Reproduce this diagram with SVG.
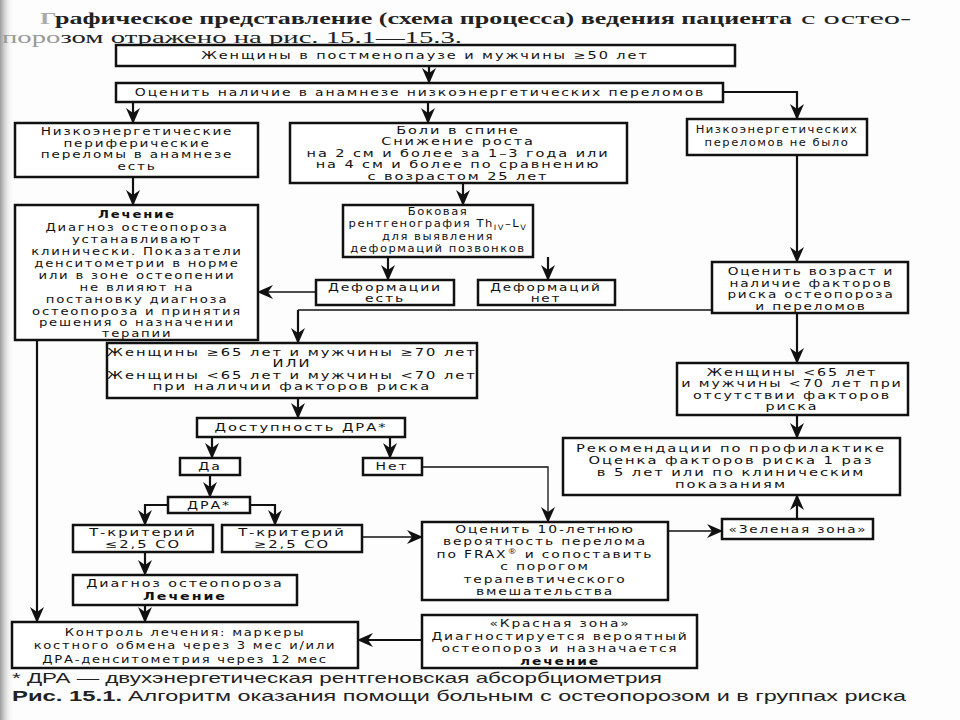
<svg xmlns="http://www.w3.org/2000/svg" width="960" height="720" viewBox="0 0 960 720">
<defs>
<style>
.bx{fill:#fff;stroke:#111;stroke-width:2.5}
.t{font-family:"DejaVu Sans",Verdana,sans-serif;font-size:10.5px;letter-spacing:1.4px;fill:#111;text-anchor:middle}
.b{font-weight:bold}
.c{fill:none;stroke:#111;stroke-width:2.2}
.cn{fill:none;stroke:#111;stroke-width:1.3}
.hb{font-family:"Liberation Serif","Times New Roman",serif;font-size:16.5px;font-weight:bold;fill:#222}
.hr{font-family:"Liberation Serif","Times New Roman",serif;font-size:16.5px;fill:#222}
.fn{font-family:"Liberation Sans",Arial,sans-serif;font-size:15px;fill:#222}
</style>
<marker id="ah" viewBox="0 0 16 14" refX="15" refY="7" markerWidth="16" markerHeight="14" markerUnits="userSpaceOnUse" orient="auto">
<path d="M0,0 L16,7 L0,14 L5,7 z" fill="#111"/>
</marker>
<linearGradient id="edge" x1="0" x2="1" y1="0" y2="0">
<stop offset="0" stop-color="#9a9a9a"/>
<stop offset="1" stop-color="#ffffff" stop-opacity="0"/>
</linearGradient>
</defs>
<rect x="0" y="0" width="960" height="720" fill="#fdfdfd"/>
<rect x="0" y="0" width="14" height="720" fill="url(#edge)"/>

<g id="header">
<text x="40" y="24" class="hb" textLength="752" lengthAdjust="spacingAndGlyphs"><tspan fill="#aaa">Г</tspan>рафическое представление (схема процесса) ведения пациента</text>
<text x="801" y="24" class="hr" textLength="110" lengthAdjust="spacingAndGlyphs">с остео-</text>
<text x="2" y="42.5" class="hr" textLength="460" lengthAdjust="spacingAndGlyphs"><tspan fill="#999">поро</tspan>зом отражено на рис. 15.1—15.3.</text>
</g>

<g id="connectors">
<path class="c" d="M429,66 V83" marker-end="url(#ah)"/>
<path class="c" d="M133,102 V123" marker-end="url(#ah)"/>
<path class="c" d="M428,102 V123" marker-end="url(#ah)"/>
<path class="c" d="M723,92 H797 V119" marker-end="url(#ah)"/>
<path class="c" d="M133,177 V205" marker-end="url(#ah)"/>
<path class="c" d="M463,183 V205" marker-end="url(#ah)"/>
<path class="c" d="M388,257 V280" marker-end="url(#ah)"/>
<path class="c" d="M548,257 V280" marker-end="url(#ah)"/>
<path class="cn" d="M316,292 H258" marker-end="url(#ah)"/>
<path class="c" d="M797,155 V262" marker-end="url(#ah)"/>
<path class="cn" d="M712,310 H298"/>
<path class="c" d="M298,310 V343" marker-end="url(#ah)"/>
<path class="c" d="M797,313 V363" marker-end="url(#ah)"/>
<path class="c" d="M797,415 V438" marker-end="url(#ah)"/>
<path class="c" d="M298,398 V418" marker-end="url(#ah)"/>
<path class="c" d="M212,437 V458" marker-end="url(#ah)"/>
<path class="c" d="M390,437 V458" marker-end="url(#ah)"/>
<path class="cn" d="M422,467 H548 V522" marker-end="url(#ah)"/>
<path class="c" d="M210,475 V497" marker-end="url(#ah)"/>
<path class="c" d="M168,505 H145 V525" marker-end="url(#ah)"/>
<path class="c" d="M250,505 H275 V525" marker-end="url(#ah)"/>
<path class="cn" d="M362,537 H422" marker-end="url(#ah)"/>
<path class="c" d="M145,552 V575" marker-end="url(#ah)"/>
<path class="c" d="M145,605 V622" marker-end="url(#ah)"/>
<path class="c" d="M37,340 V622" marker-end="url(#ah)"/>
<path class="cn" d="M668,531 H722" marker-end="url(#ah)"/>
<path class="c" d="M797,519 V495" marker-end="url(#ah)"/>
<path class="c" d="M422,640 H358" marker-end="url(#ah)"/>
</g>

<g id="n_start">
<rect class="bx" x="116" y="45" width="619" height="21"/>
<g transform="matrix(1.38,0,0,1,-161.5,0)"><text class="t" x="425" y="59.5">Женщины в постменопаузе и мужчины ≥50 лет</text></g>
</g>
<g id="n_assess">
<rect class="bx" x="116" y="83" width="607" height="19"/>
<g transform="matrix(1.33,0,0,1,-138.6,0)"><text class="t" x="420" y="96.5">Оценить наличие в анамнезе низкоэнергетических переломов</text></g>
</g>
<g id="n_periph">
<rect class="bx" x="15" y="123" width="243" height="54"/>
<g transform="matrix(1.3,0,0,1,-41.1,0)">
<text class="t" x="137" y="135.5">Низкоэнергетические</text>
<text class="t" x="137" y="147">периферические</text>
<text class="t" x="137" y="158.5">переломы в анамнезе</text>
<text class="t" x="137" y="170">есть</text>
</g>
</g>
<g id="n_back">
<rect class="bx" x="290" y="123" width="337" height="60"/>
<g transform="matrix(1.38,0,0,1,-174.04,0)">
<text class="t" x="458" y="134">Боли в спине</text>
<text class="t" x="458" y="145.5">Снижение роста</text>
<text class="t" x="458" y="157">на 2 см и более за 1–3 года или</text>
<text class="t" x="458" y="168.5">на  4 см и более по сравнению</text>
<text class="t" x="458" y="180">с возрастом 25 лет</text>
</g>
</g>
<g id="n_none">
<rect class="bx" x="687" y="119" width="180" height="36"/>
<g transform="matrix(1.1,0,0,1,-77.7,0)">
<text class="t" x="777" y="133.5">Низкоэнергетических</text>
<text class="t" x="777" y="146.5">переломов не было</text>
</g>
</g>
<g id="n_treat">
<rect class="bx" x="15" y="205" width="243" height="135"/>
<g transform="matrix(1.26,0,0,1,-35.62,0)">
<text class="t b" x="137" y="218.5">Лечение</text>
<text class="t" x="137" y="231">Диагноз остеопороза</text>
<text class="t" x="137" y="243">устанавливают</text>
<text class="t" x="137" y="255">клинически. Показатели</text>
<text class="t" x="137" y="267">денситометрии в норме</text>
<text class="t" x="137" y="279">или в зоне остеопении</text>
<text class="t" x="137" y="291">не влияют на</text>
<text class="t" x="137" y="303">постановку диагноза</text>
<text class="t" x="137" y="315">остеопороза и принятия</text>
<text class="t" x="137" y="326.5">решения о назначении</text>
<text class="t" x="137" y="337">терапии</text>
</g>
</g>
<g id="n_xray">
<rect class="bx" x="343" y="205" width="190" height="52"/>
<g transform="matrix(1.1,0,0,1,-43.8,0)">
<text class="t" x="438" y="215.5">Боковая</text>
<text class="t" x="438" y="227.5">рентгенография Th<tspan font-size="7.5" dy="3">IV</tspan><tspan dy="-3">–L</tspan><tspan font-size="7.5" dy="3">V</tspan></text>
<text class="t" x="438" y="240">для выявления</text>
<text class="t" x="438" y="252">деформаций позвонков</text>
</g>
</g>
<g id="n_def_yes">
<rect class="bx" x="316" y="280" width="138" height="25"/>
<g transform="matrix(1.33,0,0,1,-127.05,0)">
<text class="t" x="385" y="291">Деформации</text>
<text class="t" x="385" y="302">есть</text>
</g>
</g>
<g id="n_def_no">
<rect class="bx" x="478" y="280" width="137" height="25"/>
<g transform="matrix(1.3,0,0,1,-163.8,0)">
<text class="t" x="546" y="291">Деформаций</text>
<text class="t" x="546" y="302">нет</text>
</g>
</g>
<g id="n_age">
<rect class="bx" x="712" y="262" width="196" height="51"/>
<g transform="matrix(1.3,0,0,1,-243.3,0)">
<text class="t" x="811" y="275.5">Оценить возраст и</text>
<text class="t" x="811" y="287">наличие факторов</text>
<text class="t" x="811" y="298.5">риска остеопороза</text>
<text class="t" x="811" y="310">и переломов</text>
</g>
</g>
<g id="n_women65">
<rect class="bx" x="107" y="343" width="370" height="55"/>
<g transform="matrix(1.4,0,0,1,-116.8,0)">
<text class="t" x="292" y="356">Женщины ≥65 лет и мужчины ≥70 лет</text>
<text class="t" x="292" y="367.5">ИЛИ</text>
<text class="t" x="292" y="379">Женщины &lt;65 лет и мужчины &lt;70 лет</text>
<text class="t" x="292" y="390.5">при наличии факторов риска</text>
</g>
</g>
<g id="n_young">
<rect class="bx" x="677" y="363" width="231" height="52"/>
<g transform="matrix(1.36,0,0,1,-285.12,0)">
<text class="t" x="792" y="376">Женщины &lt;65 лет</text>
<text class="t" x="792" y="387.5">и мужчины &lt;70 лет при</text>
<text class="t" x="792" y="399">отсутствии факторов</text>
<text class="t" x="792" y="410.5">риска</text>
</g>
</g>
<g id="n_dxa_avail">
<rect class="bx" x="197" y="418" width="208" height="19"/>
<g transform="matrix(1.4,0,0,1,-120.4,0)"><text class="t" x="301" y="431.5">Доступность ДРА*</text></g>
</g>
<g id="n_rec">
<rect class="bx" x="563" y="438" width="337" height="57"/>
<g transform="matrix(1.4,0,0,1,-292.4,0)">
<text class="t" x="731" y="452.5">Рекомендации по профилактике</text>
<text class="t" x="731" y="464.5">Оценка факторов риска 1 раз</text>
<text class="t" x="731" y="476.5">в 5 лет или по клиническим</text>
<text class="t" x="731" y="488.5">показаниям</text>
</g>
</g>
<g id="n_yes">
<rect class="bx" x="180" y="458" width="60" height="17"/>
<g transform="matrix(1.35,0,0,1,-73.5,0)"><text class="t" x="210" y="470.5">Да</text></g>
</g>
<g id="n_no">
<rect class="bx" x="363" y="458" width="59" height="17"/>
<g transform="matrix(1.33,0,0,1,-129.36,0)"><text class="t" x="392" y="470.5">Нет</text></g>
</g>
<g id="n_dxa">
<rect class="bx" x="168" y="497" width="82" height="16"/>
<g transform="matrix(1.35,0,0,1,-73.15,0)"><text class="t" x="209" y="509">ДРА*</text></g>
</g>
<g id="n_t_low">
<rect class="bx" x="73" y="525" width="140" height="27"/>
<g transform="matrix(1.4,0,0,1,-57.2,0)">
<text class="t" x="143" y="536.5">Т-критерий</text>
<text class="t" x="143" y="548.5">≤2,5 СО</text>
</g>
</g>
<g id="n_t_high">
<rect class="bx" x="222" y="525" width="140" height="27"/>
<g transform="matrix(1.4,0,0,1,-116.8,0)">
<text class="t" x="292" y="536.5">Т-критерий</text>
<text class="t" x="292" y="548.5">≥2,5 СО</text>
</g>
</g>
<g id="n_frax">
<rect class="bx" x="422" y="522" width="246" height="78"/>
<g transform="matrix(1.32,0,0,1,-174.4,0)">
<text class="t" x="545" y="533">Оценить 10-летнюю</text>
<text class="t" x="545" y="545.5">вероятность перелома</text>
<text class="t" x="545" y="558">по FRAX<tspan font-size="7" dy="-4">®</tspan><tspan dy="4"> и сопоставить</tspan></text>
<text class="t" x="545" y="570.5">с порогом</text>
<text class="t" x="545" y="583">терапевтического</text>
<text class="t" x="545" y="595">вмешательства</text>
</g>
</g>
<g id="n_green">
<rect class="bx" x="722" y="519" width="151" height="20"/>
<g transform="matrix(1.3,0,0,1,-239.4,0)"><text class="t" x="798" y="533">«Зеленая зона»</text></g>
</g>
<g id="n_diag">
<rect class="bx" x="73" y="575" width="224" height="30"/>
<g transform="matrix(1.36,0,0,1,-66.6,0)">
<text class="t" x="185" y="587.5">Диагноз остеопороза</text>
<text class="t b" x="185" y="600.5">Лечение</text>
</g>
</g>
<g id="n_control">
<rect class="bx" x="12" y="622" width="346" height="46"/>
<g transform="matrix(1.25,0,0,1,-46.25,0)">
<text class="t" x="185" y="636">Контроль лечения: маркеры</text>
<text class="t" x="185" y="649.5">костного обмена через 3 мес и/или</text>
<text class="t" x="185" y="663">ДРА-денситометрия через 12 мес</text>
</g>
</g>
<g id="n_red">
<rect class="bx" x="422" y="615" width="275" height="53"/>
<g transform="matrix(1.32,0,0,1,-179.2,0)">
<text class="t" x="560" y="627.5">«Красная зона»</text>
<text class="t" x="560" y="640">Диагностируется вероятный</text>
<text class="t" x="560" y="652.5">остеопороз и назначается</text>
<text class="t b" x="560" y="665">лечение</text>
</g>
</g>

<g id="footer">
<text class="fn" x="12" y="683" textLength="650" lengthAdjust="spacingAndGlyphs">* ДРА — двухэнергетическая рентгеновская абсорбциометрия</text>
<text class="fn" x="12" y="700.5" font-weight="bold" textLength="110" lengthAdjust="spacingAndGlyphs">Рис. 15.1.</text>
<text class="fn" x="128" y="700.5" textLength="778" lengthAdjust="spacingAndGlyphs">Алгоритм оказания помощи больным с остеопорозом и в группах риска</text>
</g>
</svg>
